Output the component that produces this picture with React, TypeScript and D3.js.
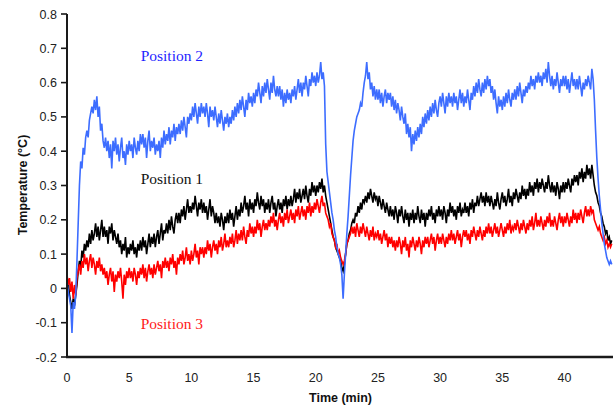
import React, { useEffect, useRef } from 'react';
import * as d3 from 'd3';

// samples every 0.1 min, one row per minute
const sampleStep = 0.1;
const xMax = 43.9;

const xTicks = [0, 5, 10, 15, 20, 25, 30, 35, 40];
const yTicks = [-0.2, -0.1, 0, 0.1, 0.2, 0.3, 0.4, 0.5, 0.6, 0.7, 0.8];

const position2 = [
  0.02, -0.01, -0.03, -0.05, -0.13, -0.04, -0.06, -0.02, 0.08, 0.19,
  0.30, 0.37, 0.35, 0.41, 0.39, 0.44, 0.46, 0.44, 0.49, 0.51,
  0.53, 0.51, 0.55, 0.52, 0.56, 0.50, 0.53, 0.46, 0.48, 0.43,
  0.41, 0.44, 0.40, 0.43, 0.38, 0.42, 0.35, 0.43, 0.40, 0.44,
  0.39, 0.42, 0.37, 0.41, 0.44, 0.38, 0.40, 0.36, 0.42, 0.39,
  0.43, 0.40, 0.42, 0.38, 0.44, 0.41, 0.39, 0.43, 0.40, 0.45,
  0.42, 0.45, 0.41, 0.44, 0.38, 0.43, 0.46, 0.40, 0.43, 0.41,
  0.44, 0.39, 0.42, 0.40, 0.43, 0.38, 0.44, 0.41, 0.46, 0.42,
  0.45, 0.43, 0.47, 0.42, 0.46, 0.44, 0.48, 0.43, 0.47, 0.45,
  0.48, 0.45, 0.49, 0.46, 0.50, 0.47, 0.44, 0.50, 0.48, 0.51,
  0.49, 0.53, 0.50, 0.54, 0.51, 0.48, 0.53, 0.50, 0.54, 0.51,
  0.53, 0.50, 0.54, 0.51, 0.47, 0.53, 0.50, 0.52, 0.49, 0.53,
  0.50, 0.47, 0.51, 0.48, 0.52, 0.49, 0.46, 0.50, 0.48, 0.51,
  0.47, 0.50, 0.48, 0.52, 0.49, 0.53, 0.50, 0.54, 0.51, 0.55,
  0.52, 0.56, 0.53, 0.50, 0.55, 0.52, 0.57, 0.54, 0.56, 0.53,
  0.57, 0.54, 0.58, 0.56, 0.60, 0.57, 0.54, 0.59, 0.56, 0.60,
  0.57, 0.61, 0.58, 0.55, 0.60, 0.57, 0.62, 0.58, 0.56, 0.59,
  0.56, 0.59, 0.55, 0.58, 0.53, 0.57, 0.54, 0.58, 0.55, 0.57,
  0.54, 0.58, 0.56, 0.59, 0.55, 0.58, 0.61, 0.57, 0.60, 0.56,
  0.60, 0.58, 0.62, 0.59, 0.56, 0.61, 0.59, 0.63, 0.60, 0.62,
  0.59, 0.63, 0.60, 0.62, 0.66, 0.61, 0.63, 0.59, 0.42, 0.34,
  0.31, 0.28, 0.25, 0.22, 0.20, 0.17, 0.15, 0.12, 0.10, 0.09,
  0.07, 0.04, -0.03, 0.04, 0.10, 0.16, 0.21, 0.27, 0.33, 0.38,
  0.43, 0.46, 0.48, 0.50, 0.51, 0.52, 0.54, 0.53, 0.57, 0.60,
  0.62, 0.66, 0.61, 0.63, 0.58, 0.60, 0.56, 0.59, 0.55, 0.58,
  0.55, 0.58, 0.54, 0.57, 0.53, 0.56, 0.58, 0.54, 0.57, 0.55,
  0.57, 0.53, 0.56, 0.52, 0.55, 0.51, 0.54, 0.52, 0.49, 0.53,
  0.50, 0.48, 0.51, 0.45, 0.48, 0.44, 0.47, 0.40, 0.45, 0.42,
  0.46, 0.43, 0.47, 0.44, 0.48, 0.45, 0.50, 0.47, 0.51, 0.48,
  0.52, 0.49, 0.53, 0.50, 0.54, 0.51, 0.55, 0.52, 0.50, 0.54,
  0.56, 0.53, 0.57, 0.54, 0.51, 0.56, 0.53, 0.57, 0.54, 0.56,
  0.53, 0.57, 0.54, 0.56, 0.52, 0.55, 0.58, 0.54, 0.57, 0.53,
  0.56, 0.54, 0.58, 0.55, 0.52, 0.57, 0.55, 0.59, 0.56, 0.60,
  0.57, 0.61, 0.58, 0.56, 0.60, 0.57, 0.61, 0.58, 0.62, 0.59,
  0.61, 0.57, 0.59, 0.55, 0.58, 0.54, 0.51, 0.56, 0.53, 0.55,
  0.52, 0.56, 0.53, 0.57, 0.54, 0.58, 0.55, 0.53, 0.57, 0.55,
  0.58, 0.55, 0.59, 0.56, 0.60, 0.57, 0.54, 0.58, 0.56, 0.59,
  0.57, 0.60, 0.58, 0.62, 0.59, 0.61, 0.58, 0.62, 0.60, 0.63,
  0.60, 0.62, 0.59, 0.63, 0.61, 0.64, 0.60, 0.66, 0.62, 0.59,
  0.62, 0.58, 0.61, 0.59, 0.63, 0.60, 0.57, 0.61, 0.59, 0.62,
  0.59, 0.62, 0.58, 0.61, 0.57, 0.60, 0.63, 0.59, 0.61, 0.58,
  0.61, 0.58, 0.62, 0.59, 0.56, 0.60, 0.58, 0.61, 0.59, 0.62,
  0.60, 0.58, 0.64, 0.61, 0.55, 0.46, 0.38, 0.32, 0.27, 0.23,
  0.19, 0.16, 0.13, 0.11, 0.09, 0.08, 0.07, 0.08, 0.07,
];

const position1 = [
  0.00, 0.02, -0.02, -0.04, -0.06, -0.03, -0.05, -0.02, 0.01, 0.05,
  0.08, 0.06, 0.11, 0.09, 0.13, 0.11, 0.14, 0.12, 0.16, 0.13,
  0.17, 0.14, 0.16, 0.19, 0.15, 0.18, 0.14, 0.17, 0.20, 0.15,
  0.18, 0.15, 0.17, 0.13, 0.18, 0.16, 0.19, 0.14, 0.17, 0.15,
  0.13, 0.16, 0.12, 0.14, 0.10, 0.13, 0.11, 0.15, 0.09, 0.12,
  0.10, 0.13, 0.11, 0.14, 0.10, 0.12, 0.09, 0.13, 0.11, 0.14,
  0.11, 0.15, 0.12, 0.14, 0.10, 0.13, 0.16, 0.12, 0.15, 0.13,
  0.16, 0.12, 0.15, 0.17, 0.13, 0.16, 0.19, 0.14, 0.17, 0.16,
  0.19, 0.16, 0.20, 0.17, 0.21, 0.18, 0.16, 0.20, 0.22, 0.19,
  0.22, 0.19, 0.23, 0.21, 0.24, 0.20, 0.23, 0.26, 0.22, 0.24,
  0.22, 0.25, 0.23, 0.27, 0.24, 0.21, 0.25, 0.23, 0.26, 0.22,
  0.25, 0.22, 0.24, 0.20, 0.23, 0.26, 0.21, 0.24, 0.22, 0.19,
  0.22, 0.19, 0.21, 0.18, 0.22, 0.20, 0.17, 0.21, 0.19, 0.22,
  0.19, 0.23, 0.20, 0.22, 0.18, 0.21, 0.24, 0.20, 0.23, 0.21,
  0.25, 0.22, 0.24, 0.27, 0.23, 0.25, 0.21, 0.26, 0.23, 0.25,
  0.22, 0.26, 0.24, 0.28, 0.25, 0.23, 0.27, 0.24, 0.26, 0.22,
  0.25, 0.23, 0.26, 0.22, 0.25, 0.27, 0.23, 0.25, 0.21, 0.24,
  0.26, 0.23, 0.25, 0.22, 0.26, 0.24, 0.27, 0.23, 0.26, 0.24,
  0.27, 0.24, 0.26, 0.29, 0.25, 0.28, 0.26, 0.29, 0.25, 0.27,
  0.29, 0.26, 0.30, 0.27, 0.25, 0.29, 0.27, 0.31, 0.28, 0.30,
  0.27, 0.30, 0.28, 0.31, 0.29, 0.32, 0.28, 0.30, 0.27, 0.25,
  0.23, 0.21, 0.19, 0.17, 0.15, 0.14, 0.12, 0.11, 0.10, 0.09,
  0.08, 0.06, 0.05, 0.07, 0.10, 0.13, 0.14, 0.16, 0.17, 0.19,
  0.20, 0.19, 0.22, 0.21, 0.24, 0.22, 0.25, 0.23, 0.26, 0.25,
  0.27, 0.25, 0.28, 0.26, 0.29, 0.27, 0.25, 0.28, 0.26, 0.27,
  0.24, 0.27, 0.25, 0.23, 0.26, 0.24, 0.22, 0.25, 0.23, 0.21,
  0.24, 0.21, 0.23, 0.20, 0.24, 0.22, 0.19, 0.23, 0.21, 0.24,
  0.21, 0.19, 0.23, 0.20, 0.22, 0.18, 0.22, 0.20, 0.23, 0.19,
  0.22, 0.20, 0.24, 0.21, 0.19, 0.23, 0.20, 0.22, 0.18, 0.22,
  0.20, 0.23, 0.21, 0.24, 0.20, 0.22, 0.19, 0.23, 0.21, 0.24,
  0.21, 0.23, 0.20, 0.24, 0.22, 0.19, 0.23, 0.21, 0.25, 0.22,
  0.24, 0.21, 0.23, 0.20, 0.24, 0.22, 0.25, 0.21, 0.23, 0.22,
  0.25, 0.22, 0.24, 0.21, 0.25, 0.23, 0.26, 0.22, 0.25, 0.24,
  0.27, 0.24, 0.26, 0.28, 0.25, 0.27, 0.24, 0.28, 0.25, 0.27,
  0.24, 0.27, 0.25, 0.23, 0.26, 0.24, 0.28, 0.25, 0.23, 0.26,
  0.28, 0.25, 0.27, 0.24, 0.26, 0.29, 0.25, 0.27, 0.24, 0.28,
  0.26, 0.29, 0.27, 0.25, 0.28, 0.26, 0.30, 0.27, 0.29, 0.26,
  0.29, 0.27, 0.31, 0.28, 0.30, 0.27, 0.31, 0.29, 0.32, 0.28,
  0.31, 0.29, 0.32, 0.30, 0.28, 0.31, 0.29, 0.33, 0.30, 0.28,
  0.31, 0.28, 0.30, 0.27, 0.31, 0.29, 0.26, 0.30, 0.28, 0.31,
  0.28, 0.31, 0.29, 0.32, 0.30, 0.28, 0.32, 0.30, 0.33, 0.31,
  0.33, 0.30, 0.34, 0.32, 0.35, 0.31, 0.34, 0.32, 0.36, 0.33,
  0.35, 0.32, 0.36, 0.33, 0.30, 0.28, 0.27, 0.25, 0.24, 0.22,
  0.21, 0.19, 0.18, 0.16, 0.17, 0.14, 0.15, 0.13, 0.14,
];

const position3 = [
  0.04, 0.01, 0.03, -0.01, 0.02, -0.03, 0.01, -0.02, 0.03, 0.05,
  0.07, 0.04, 0.08, 0.06, 0.10, 0.07, 0.09, 0.05, 0.08, 0.10,
  0.06, 0.09, 0.07, 0.04, 0.08, 0.06, 0.09, 0.05, 0.07, 0.04,
  0.06, 0.03, 0.05, 0.01, 0.04, 0.06, 0.02, 0.05, -0.01, 0.04,
  0.02, 0.05, 0.03, 0.06, 0.02, -0.03, 0.04, 0.01, 0.05, 0.03,
  0.06, 0.03, 0.05, 0.02, 0.06, 0.04, 0.01, 0.05, 0.03, 0.06,
  0.04, 0.07, 0.03, 0.06, 0.02, 0.05, 0.07, 0.04, 0.06, 0.03,
  0.07, 0.04, 0.06, 0.08, 0.05, 0.07, 0.03, 0.08, 0.06, 0.09,
  0.06, 0.08, 0.05, 0.09, 0.07, 0.10, 0.06, 0.08, 0.04, 0.09,
  0.07, 0.10, 0.08, 0.11, 0.07, 0.09, 0.12, 0.08, 0.10, 0.07,
  0.11, 0.08, 0.10, 0.13, 0.09, 0.11, 0.07, 0.12, 0.10, 0.12,
  0.09, 0.12, 0.10, 0.14, 0.11, 0.13, 0.09, 0.12, 0.14, 0.11,
  0.13, 0.10, 0.14, 0.12, 0.15, 0.11, 0.13, 0.16, 0.12, 0.14,
  0.12, 0.15, 0.13, 0.16, 0.12, 0.14, 0.17, 0.13, 0.16, 0.14,
  0.17, 0.14, 0.18, 0.15, 0.13, 0.17, 0.15, 0.19, 0.16, 0.18,
  0.15, 0.18, 0.16, 0.20, 0.17, 0.19, 0.15, 0.18, 0.20, 0.17,
  0.19, 0.17, 0.20, 0.18, 0.21, 0.19, 0.22, 0.18, 0.20, 0.17,
  0.20, 0.22, 0.19, 0.21, 0.18, 0.22, 0.20, 0.23, 0.19, 0.21,
  0.23, 0.20, 0.22, 0.19, 0.23, 0.21, 0.24, 0.20, 0.22, 0.24,
  0.21, 0.23, 0.20, 0.24, 0.22, 0.25, 0.21, 0.24, 0.22, 0.25,
  0.23, 0.26, 0.24, 0.22, 0.25, 0.27, 0.24, 0.25, 0.22, 0.21,
  0.20, 0.18, 0.19, 0.16, 0.15, 0.14, 0.12, 0.13, 0.10, 0.11,
  0.09, 0.08, 0.07, 0.08, 0.10, 0.13, 0.14, 0.15, 0.16, 0.18,
  0.16, 0.18, 0.15, 0.19, 0.17, 0.15, 0.18, 0.16, 0.19, 0.17,
  0.15, 0.18, 0.16, 0.14, 0.17, 0.15, 0.18, 0.14, 0.16, 0.15,
  0.17, 0.14, 0.16, 0.13, 0.15, 0.17, 0.14, 0.16, 0.12, 0.15,
  0.13, 0.15, 0.12, 0.14, 0.11, 0.14, 0.12, 0.15, 0.13, 0.10,
  0.14, 0.12, 0.15, 0.11, 0.13, 0.09, 0.14, 0.12, 0.15, 0.13,
  0.11, 0.14, 0.12, 0.15, 0.13, 0.10, 0.14, 0.12, 0.15, 0.13,
  0.15, 0.12, 0.14, 0.16, 0.13, 0.15, 0.11, 0.14, 0.16, 0.13,
  0.15, 0.13, 0.16, 0.14, 0.12, 0.15, 0.13, 0.16, 0.14, 0.17,
  0.14, 0.16, 0.13, 0.15, 0.17, 0.14, 0.16, 0.12, 0.15, 0.17,
  0.15, 0.17, 0.14, 0.16, 0.13, 0.17, 0.15, 0.18, 0.16, 0.14,
  0.17, 0.15, 0.18, 0.16, 0.14, 0.17, 0.15, 0.18, 0.16, 0.19,
  0.16, 0.18, 0.15, 0.17, 0.19, 0.16, 0.18, 0.15, 0.17, 0.19,
  0.17, 0.15, 0.18, 0.16, 0.19, 0.17, 0.20, 0.16, 0.18, 0.17,
  0.19, 0.17, 0.20, 0.18, 0.16, 0.19, 0.17, 0.20, 0.18, 0.16,
  0.19, 0.17, 0.20, 0.18, 0.21, 0.17, 0.19, 0.22, 0.18, 0.20,
  0.18, 0.21, 0.19, 0.17, 0.20, 0.18, 0.21, 0.19, 0.22, 0.18,
  0.20, 0.18, 0.21, 0.19, 0.17, 0.20, 0.22, 0.19, 0.21, 0.18,
  0.21, 0.19, 0.22, 0.20, 0.18, 0.21, 0.19, 0.23, 0.20, 0.22,
  0.19, 0.22, 0.20, 0.23, 0.21, 0.19, 0.22, 0.24, 0.21, 0.23,
  0.21, 0.24, 0.22, 0.23, 0.20, 0.19, 0.18, 0.17, 0.18, 0.16,
  0.15, 0.14, 0.15, 0.13, 0.14, 0.12, 0.13, 0.12, 0.13,
];

const seriesNames = ['Position 1', 'Position 3', 'Position 2'];
const seriesValues = [position1, position3, position2];
const lineColors = ['#000000', '#ff0000', '#3d6dff'];
const labelColors = ['#111111', '#ff1a1a', '#1f1fff'];
// label anchor in data units: [time, temperature]
const labelAt = [[5.92, 0.304], [5.92, -0.117], [5.92, 0.664]];

export default () => {
  const width = 616;
  const height = 406;
  const svgRef = useRef(null);

  useEffect(() => {
    const svg = d3.select(svgRef.current);
    svg.selectAll('*').remove();

    const x = d3.scaleLinear().domain([0, xMax]).range([67, 613]);
    const y = d3.scaleLinear().domain([-0.2, 0.8]).range([357, 14]);
    const axisColor = '#1a1a1a';
    const sans = 'Arial, "Liberation Sans", sans-serif';

    // Series
    const line = d3.line<number>()
      .x((d, i) => x(i * sampleStep))
      .y(d => y(d));

    seriesValues.forEach((vals, k) => {
      svg.append('path')
        .datum(vals)
        .attr('fill', 'none')
        .attr('stroke', lineColors[k])
        .attr('stroke-width', 1.6)
        .attr('stroke-linejoin', 'miter')
        .attr('d', line);
    });

    // Y axis
    svg.append('line')
      .attr('x1', x(0)).attr('x2', x(0))
      .attr('y1', y(0.8)).attr('y2', y(-0.2) + 1)
      .attr('stroke', axisColor).attr('stroke-width', 2);

    const yt = svg.append('g');
    yTicks.forEach(v => {
      yt.append('line')
        .attr('x1', x(0) - 6).attr('x2', x(0))
        .attr('y1', y(v)).attr('y2', y(v))
        .attr('stroke', axisColor).attr('stroke-width', 1.6);
      yt.append('text')
        .attr('x', x(0) - 10)
        .attr('y', y(v) + 4.5)
        .attr('text-anchor', 'end')
        .attr('font-family', sans)
        .attr('font-size', 12.5)
        .attr('fill', '#222')
        .text(v === 0 ? '0' : v.toFixed(1));
    });

    // X axis
    svg.append('line')
      .attr('x1', x(0) - 1).attr('x2', x(xMax))
      .attr('y1', y(-0.2)).attr('y2', y(-0.2))
      .attr('stroke', axisColor).attr('stroke-width', 2.4);

    xTicks.forEach(t => {
      svg.append('text')
        .attr('x', x(t))
        .attr('y', 381.5)
        .attr('text-anchor', 'middle')
        .attr('font-family', sans)
        .attr('font-size', 12.5)
        .attr('fill', '#222')
        .text(String(t));
    });

    // Axis titles
    svg.append('text')
      .attr('x', 340.5)
      .attr('y', 402)
      .attr('text-anchor', 'middle')
      .attr('font-family', sans)
      .attr('font-weight', 'bold')
      .attr('font-size', 12.5)
      .attr('fill', '#111')
      .text('Time (min)');

    svg.append('text')
      .attr('transform', 'translate(26.5,185) rotate(-90)')
      .attr('text-anchor', 'middle')
      .attr('font-family', sans)
      .attr('font-weight', 'bold')
      .attr('font-size', 12.5)
      .attr('fill', '#111')
      .text('Temperature (°C)');

    // Series labels
    seriesNames.forEach((name, k) => {
      svg.append('text')
        .attr('x', x(labelAt[k][0]))
        .attr('y', y(labelAt[k][1]))
        .attr('font-family', '"Times New Roman", "Liberation Serif", serif')
        .attr('font-size', 15.5)
        .attr('fill', labelColors[k])
        .text(name);
    });
  }, []);

  return <>
    <svg ref={svgRef} width={width} height={height}
      style={{ position: 'absolute', left: 0, top: 0, background: '#fff' }}></svg>
  </>;
};
